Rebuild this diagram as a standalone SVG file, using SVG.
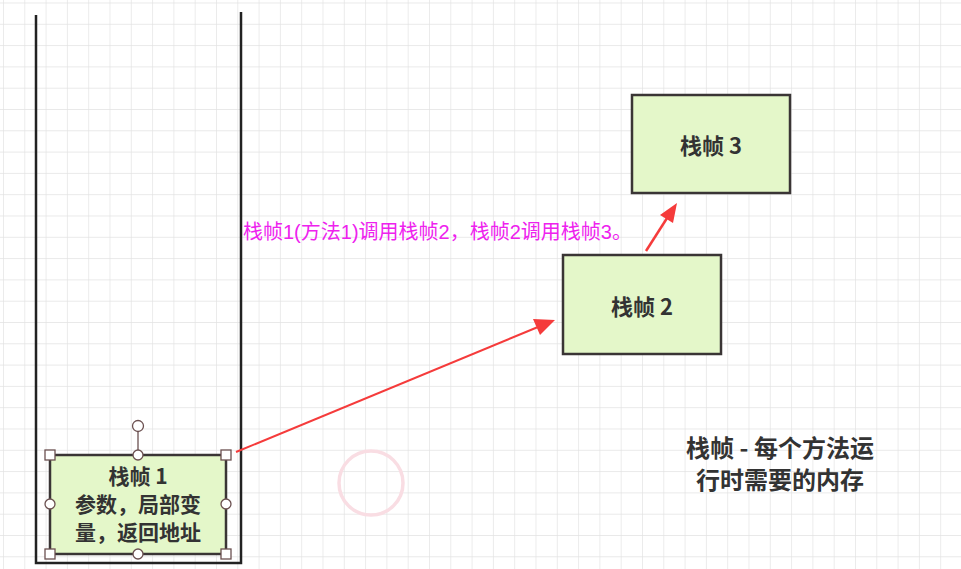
<svg xmlns="http://www.w3.org/2000/svg" width="961" height="569" viewBox="0 0 961 569">
<defs>
<pattern id="grid" x="3" y="2.5" width="21.3" height="21.3" patternUnits="userSpaceOnUse">
<path d="M0 0H21.3M0 0V21.3" fill="none" stroke="#e2e2e2" stroke-width="1.3"/>
</pattern>
</defs>
<style>
.node{fill:#e4f7c9;stroke:#3a3535;stroke-width:2.5}
.lbl{font-family:"Noto Sans CJK SC","Liberation Sans",sans-serif;font-weight:bold;font-size:22px;fill:#333;text-anchor:middle}
.sm{font-size:21px}
.big{font-size:24px}
.wall{stroke:#222;stroke-width:2.5;fill:none}
.h{fill:#fff;stroke:#6b5050;stroke-width:1.3}
.conn{stroke:#f53b3b;fill:none}
</style>
<rect width="961" height="569" fill="#fff"/>
<rect width="961" height="569" fill="url(#grid)"/>
<g id="stack">
<path class="wall" d="M36 15V563H241V12"/>
</g>
<circle cx="371" cy="483" r="32" fill="none" stroke="#f9dde3" stroke-width="3.5"/>
<g id="connectors">
<path class="conn" d="M236 452L538 327" stroke-width="2"/>
<polygon points="555,320 533,319 540,335" fill="#f53b3b"/>
<path class="conn" d="M646 251L669 215" stroke-width="2.5"/>
<polygon points="677,203 660,215 673,223" fill="#f53b3b"/>
</g>
<g id="frame1">
<rect class="node" x="50" y="455" width="176" height="99"/>
<text class="lbl sm" x="138" y="484">栈帧 1</text>
<text class="lbl sm" x="138" y="512">参数，局部变</text>
<text class="lbl sm" x="138" y="540">量，返回地址</text>
<line x1="138" y1="431" x2="138" y2="455" stroke="#6b5050" stroke-width="1.3"/>
<circle class="h" cx="138" cy="426" r="5.5"/>
<rect class="h" x="45" y="450" width="10" height="10"/>
<rect class="h" x="221" y="450" width="10" height="10"/>
<rect class="h" x="45" y="549" width="10" height="10"/>
<rect class="h" x="221" y="549" width="10" height="10"/>
<circle class="h" cx="50" cy="504" r="5"/>
<circle class="h" cx="226" cy="504" r="5"/>
<circle class="h" cx="138" cy="554" r="5"/>
<circle class="h" cx="138" cy="455" r="5"/>
</g>
<g id="frame2">
<rect class="node" x="563" y="255" width="158" height="99"/>
<text class="lbl" x="642" y="315">栈帧 2</text>
</g>
<g id="frame3">
<rect class="node" x="632" y="95" width="158" height="98"/>
<text class="lbl" x="711" y="154">栈帧 3</text>
</g>
<text x="243" y="239" font-family="'Liberation Sans','Noto Sans CJK SC',sans-serif" font-size="20" fill="#ee22ee">栈帧1(方法1)调用栈帧2，栈帧2调用栈帧3。</text>
<g id="note">
<text class="lbl big" x="780" y="457">栈帧 - 每个方法运</text>
<text class="lbl big" x="780" y="489">行时需要的内存</text>
</g>
</svg>
